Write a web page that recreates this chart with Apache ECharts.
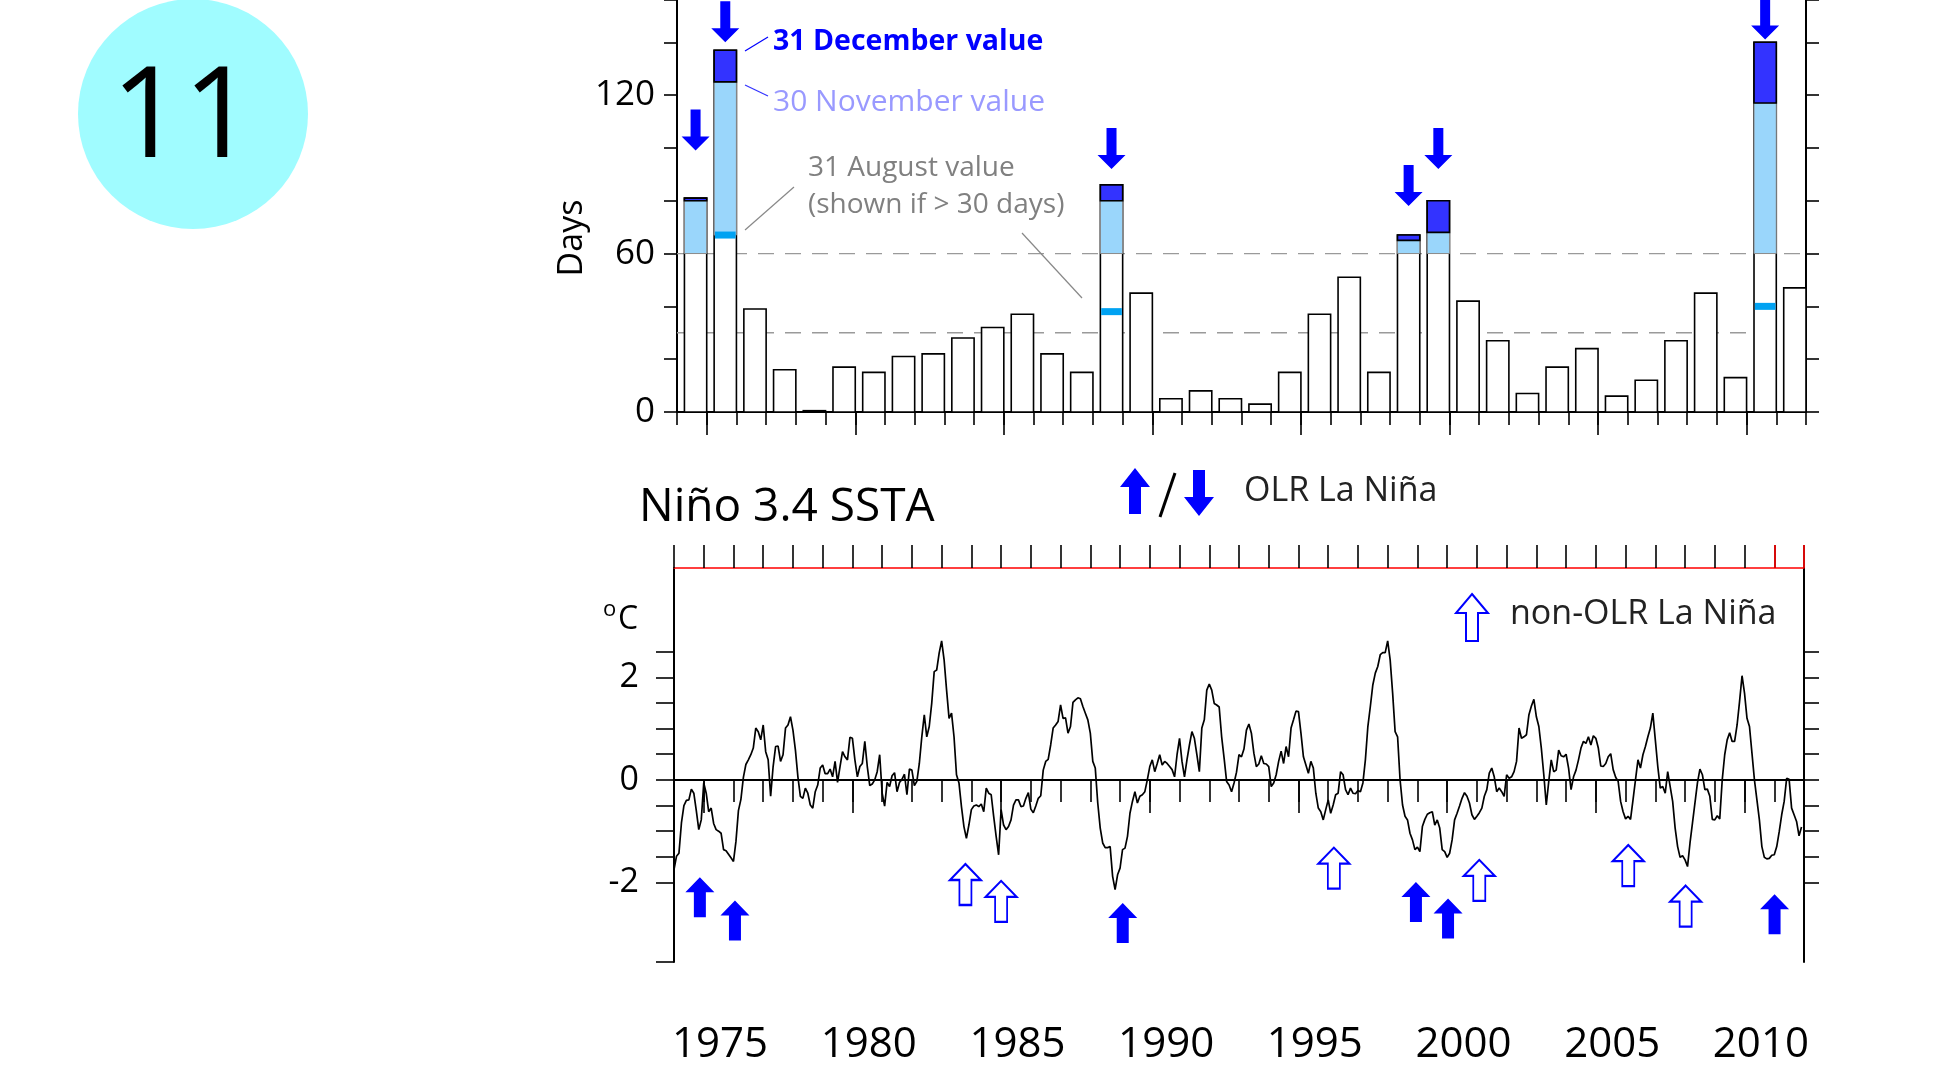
<!DOCTYPE html>
<html><head><meta charset="utf-8">
<script src="https://cdn.jsdelivr.net/npm/echarts@6/dist/echarts.min.js"></script>
<style>html,body{margin:0;padding:0;background:#fff}#c{width:1952px;height:1074px}</style>
</head><body><div id="c"></div>
<script>
// ---------- top panel: days per year ----------
const barYears = [1974,1975,1976,1977,1978,1979,1980,1981,1982,1983,1984,1985,1986,1987,1988,1989,1990,1991,1992,1993,
                  1994,1995,1996,1997,1998,1999,2000,2001,2002,2003,2004,2005,2006,2007,2008,2009,2010,2011];
const decDays = [81,137,39,16,0.5,17,15,21,22,28,32,37,22,15,86,45,5,8,5,3,
                 15,37,51,15,67,80,42,27,7,17,24,6,12,27,45,13,140,47];
const novDays = [80,125,null,null,null,null,null,null,null,null,null,null,null,null,80,null,null,null,null,null,
                 null,null,null,null,65,68,null,null,null,null,null,null,null,null,null,null,117,null];
const augDays = [null,67,null,null,null,null,null,null,null,null,null,null,null,null,38,null,null,null,null,null,
                 null,null,null,null,null,null,null,null,null,null,null,null,null,null,null,null,40,null];
const refDays = [60, 30];
const topArrowYears = [1974, 1975, 1988, 1998, 1999, 2010];
const topArrowTip = [99, 140, 92, 78, 92, 141];
const daysTicks = [0, 60, 120];

// ---------- bottom panel: Nino 3.4 SSTA, monthly from Jan 1974 ----------
const ssta1974_1979 = [
-1.75,-1.49,-1.43,-0.84,-0.50,-0.40,-0.39,-0.18,-0.26,-0.60,-0.97,-0.78,
-0.06,-0.26,-0.62,-0.55,-0.85,-0.97,-1.00,-1.04,-1.36,-1.38,-1.45,-1.52,
-1.59,-1.20,-0.60,-0.38,0.05,0.30,0.39,0.49,0.62,1.01,0.94,0.78,
1.07,0.55,0.39,-0.32,0.26,0.65,0.66,0.36,0.49,1.01,1.07,1.23,
0.97,0.58,0.06,-0.32,-0.36,-0.16,-0.26,-0.49,-0.55,-0.23,-0.10,0.23,
0.29,0.12,0.12,0.21,0.06,0.36,-0.05,0.26,0.55,0.45,0.39,0.83];
const ssta1980s = [
0.81,0.39,0.06,0.26,0.32,0.75,0.26,-0.11,-0.08,0.00,0.16,0.49,
-0.26,-0.51,-0.05,-0.13,0.08,0.14,-0.23,-0.05,0.01,0.11,-0.29,0.21,
0.19,-0.11,-0.03,0.32,0.84,1.27,0.84,1.04,1.49,2.11,2.14,2.47,
2.71,2.34,1.75,1.20,1.30,0.84,0.10,-0.06,-0.52,-0.91,-1.14,-0.88,
-0.58,-0.51,-0.49,-0.52,-0.47,-0.62,-0.16,-0.26,-0.29,-0.71,-1.10,-1.46,
-0.58,-0.88,-0.97,-0.91,-0.78,-0.49,-0.39,-0.39,-0.52,-0.51,-0.36,-0.25,
-0.57,-0.64,-0.51,-0.36,-0.31,0.19,0.36,0.40,0.68,1.01,1.07,1.14,
1.46,1.20,1.21,0.91,1.04,1.51,1.56,1.60,1.58,1.43,1.30,1.17,
0.91,0.36,0.23,-0.45,-0.94,-1.23,-1.32,-1.32,-1.30,-1.88,-2.14,-1.85,
-1.72,-1.36,-1.33,-1.10,-0.65,-0.42,-0.23,-0.45,-0.32,-0.29,-0.23,0.00];
const ssta1990s = [
0.26,0.39,0.16,0.32,0.49,0.29,0.36,0.32,0.26,0.20,0.06,0.49,
0.81,0.36,0.06,0.39,0.68,0.94,0.81,0.49,0.16,1.01,1.17,1.75,
1.87,1.75,1.49,1.46,1.42,0.84,0.42,-0.03,-0.10,-0.23,-0.06,0.15,
0.49,0.45,0.60,0.97,1.09,0.91,0.52,0.26,0.31,0.47,0.32,0.31,
0.26,-0.13,-0.06,0.10,0.36,0.56,0.32,0.65,0.45,1.01,1.17,1.34,
1.33,0.91,0.45,0.29,0.13,0.36,0.23,-0.26,-0.55,-0.62,-0.78,-0.58,
-0.39,-0.65,-0.49,-0.29,-0.26,0.16,0.10,-0.19,-0.29,-0.16,-0.26,-0.27,
-0.21,-0.23,-0.06,0.39,1.04,1.43,1.85,2.08,2.21,2.44,2.48,2.48,
2.71,2.34,1.69,0.94,0.84,0.00,-0.49,-0.71,-0.78,-1.04,-1.17,-1.36,
-1.31,-1.40,-0.91,-0.77,-0.67,-0.64,-0.62,-0.88,-0.78,-0.94,-1.36,-1.40];
const ssta2000s = [
-1.51,-1.43,-1.17,-0.78,-0.65,-0.51,-0.36,-0.25,-0.32,-0.45,-0.68,-0.77,
-0.71,-0.64,-0.55,-0.32,-0.19,0.13,0.23,0.06,-0.23,-0.16,-0.23,-0.32,
0.10,0.03,0.06,0.16,0.36,1.01,0.81,0.84,0.88,1.27,1.44,1.57,
1.23,1.04,0.62,0.10,-0.49,-0.03,0.39,0.16,0.19,0.58,0.47,0.45,
0.50,0.23,-0.19,0.06,0.19,0.39,0.62,0.75,0.71,0.84,0.68,0.86,
0.81,0.62,0.27,0.26,0.32,0.45,0.51,0.20,0.05,-0.03,-0.42,-0.62,
-0.76,-0.71,-0.77,-0.39,0.00,0.39,0.23,0.49,0.65,0.84,1.01,1.30,
0.78,0.26,-0.16,-0.13,-0.26,0.16,-0.13,-0.42,-0.94,-1.30,-1.51,-1.48,
-1.56,-1.69,-1.23,-0.84,-0.45,-0.06,0.21,0.10,-0.19,-0.18,-0.32,-0.77,
-0.78,-0.70,-0.76,0.00,0.49,0.78,0.92,0.75,0.75,1.07,1.53,2.03];
const ssta2010s = [
1.69,1.20,1.04,0.52,0.00,-0.39,-0.78,-1.30,-1.51,-1.54,-1.53,-1.47,
-1.46,-1.30,-1.01,-0.68,-0.42,0.03,0.01,-0.55,-0.68,-0.81,-1.09,-0.92];
const sstaStartYear = 1974;

const olrArrowX = [1974.87, 1976.05, 1989.09, 1998.95, 2000.03, 2011.01];
const olrArrowTip = [-1.90, -2.35, -2.40, -1.99, -2.31, -2.23];
const nonOlrArrowX = [1983.80, 1985.00, 1996.19, 2001.08, 2006.09, 2008.02];
const nonOlrArrowTip = [-1.64, -1.97, -1.32, -1.56, -1.27, -2.06];

const majorYears = [1975, 1980, 1985, 1990, 1995, 2000, 2005, 2010];
const sstaTicks = [-2, -1.5, -1, -0.5, 0, 0.5, 1, 1.5, 2, 2.5];
const sstaLabels = [-2, 0, 2];

// ---------- build ----------
const FONT = '"Open Sans", "Noto Sans", sans-serif';
const ssta = ssta1974_1979.concat(ssta1980s, ssta1990s, ssta2000s, ssta2010s);
const sstaData = ssta.map((v, i) => [sstaStartYear + i / 12, v]);
const barData = barYears.map((y, i) => [y, decDays[i], novDays[i] == null ? -1 : novDays[i], augDays[i] == null ? -1 : augDays[i]]);

const downPath = 'path://M9,0 L19,0 L19,27 L28,27 L14,41 L0,27 L9,27 Z';
const upPathFilled = 'path://M14.5,0 L29,15 L20.5,15 L20.5,40 L8.5,40 L8.5,15 L0,15 Z';
const upPathOpen = 'path://M15.5,0 L31,16 L21.5,16 L21.5,41 L9.5,41 L9.5,16 L0,16 Z';

function renderBars(params, api) {
  const yr = api.value(0), dec = api.value(1), nov = api.value(2), aug = api.value(3);
  const x0 = api.coord([yr + 0.25, 0])[0];
  const x1 = api.coord([yr + 1, 0])[0];
  const w = x1 - x0;
  const py = v => api.coord([yr, v])[1];
  const kids = [];
  kids.push({type: 'rect', shape: {x: x0, y: py(dec), width: w, height: py(0) - py(dec)},
             style: {fill: '#ffffff', stroke: '#000', lineWidth: 1.6}});
  if (nov > 0) {
    const ls = Math.max(60, aug > 0 ? aug : 0);
    kids.push({type: 'rect', shape: {x: x0, y: py(nov), width: w, height: py(ls) - py(nov)},
               style: {fill: '#9ad6fb', stroke: '#8a8a8a', lineWidth: 1}});
    kids.push({type: 'rect', shape: {x: x0, y: py(dec), width: w, height: py(nov) - py(dec)},
               style: {fill: '#3333ff', stroke: '#000', lineWidth: 1.6}});
  }
  if (aug > 0) {
    kids.push({type: 'rect', shape: {x: x0 + 0.8, y: py(aug) - 3.5, width: w - 1.6, height: 7},
               style: {fill: '#00a2f2'}});
  }
  return {type: 'group', children: kids};
}

const blk = {color: '#000', width: 2};
const tickStyle = {color: '#000', width: 1.6};

function txt(text, x, y, size, color, opts) {
  opts = opts || {};
  return {type: 'text', x: x, y: y, rotation: opts.rot || 0, z: 20,
    style: {text: text, fontSize: size, fontFamily: FONT, fontWeight: opts.weight || 'normal',
            fill: color, align: opts.align || 'left', textAlign: opts.align || 'left',
            verticalAlign: 'middle', textVerticalAlign: 'middle'}};
}
function seg(x1, y1, x2, y2, color, w) {
  return {type: 'line', z: 20, shape: {x1: x1, y1: y1, x2: x2, y2: y2}, style: {stroke: color, lineWidth: w}};
}
// arrow as polygon: (x,y) top-left, w,h size, shaft width sw, head length hl, dir 'up'|'down'
function arrowPoly(x, y, w, h, sw, hl, dir, fill, stroke) {
  const cx = x + w / 2, a = cx - sw / 2, b = cx + sw / 2;
  let pts;
  if (dir === 'up') {
    pts = [[cx, y], [x + w, y + hl], [b, y + hl], [b, y + h], [a, y + h], [a, y + hl], [x, y + hl]];
  } else {
    pts = [[a, y], [b, y], [b, y + h - hl], [x + w, y + h - hl], [cx, y + h], [x, y + h - hl], [a, y + h - hl]];
  }
  return {type: 'polygon', z: 20, shape: {points: pts},
          style: {fill: fill, stroke: stroke || null, lineWidth: stroke ? 2 : 0}};
}

const option = {
  animation: false,
  backgroundColor: '#ffffff',
  textStyle: {fontFamily: FONT},
  grid: [
    {left: 677, right: 146, top: 0, height: 412},
    {left: 674, right: 148, top: 568, height: 394}
  ],
  xAxis: [
    {gridIndex: 0, type: 'value', min: 1974, max: 2012, interval: 1, position: 'bottom',
     axisLine: {show: true, lineStyle: blk}, axisTick: {show: true, length: 13, lineStyle: tickStyle},
     axisLabel: {show: false}, splitLine: {show: false}},
    {gridIndex: 0, type: 'value', min: 1974, max: 2012, position: 'bottom',
     axisLine: {show: false}, axisTick: {show: true, length: 23, customValues: majorYears, lineStyle: tickStyle},
     axisLabel: {show: false}, splitLine: {show: false}},
    {gridIndex: 1, type: 'value', min: 1974, max: 2012, interval: 1, position: 'bottom',
     axisLine: {show: true, lineStyle: blk}, axisTick: {show: true, length: 22, lineStyle: tickStyle},
     axisLabel: {show: false}, splitLine: {show: false}},
    {gridIndex: 1, type: 'value', min: 1974, max: 2012, position: 'bottom',
     axisLine: {show: false}, axisTick: {show: true, length: 33, customValues: majorYears, lineStyle: tickStyle},
     axisLabel: {show: true, customValues: majorYears.map(y => y + 0.55), formatter: v => String(Math.floor(v)),
                 fontSize: 42, color: '#000', margin: 62, fontFamily: FONT},
     splitLine: {show: false}},
    {gridIndex: 1, type: 'value', min: 1974, max: 2012, interval: 1, position: 'top',
     axisLine: {show: true, lineStyle: {color: '#ff0000', width: 1.5}},
     axisTick: {show: true, length: 23, lineStyle: tickStyle},
     axisLabel: {show: false}, splitLine: {show: false}},
    {gridIndex: 1, type: 'value', min: 1974, max: 2012, position: 'top',
     axisLine: {show: false},
     axisTick: {show: true, length: 23, customValues: [2011, 2012], lineStyle: {color: '#ff0000', width: 1.6}},
     axisLabel: {show: false}, splitLine: {show: false}}
  ],
  yAxis: [
    {gridIndex: 0, type: 'value', min: 0, max: 156, interval: 20, position: 'left',
     axisLine: {show: true, lineStyle: blk}, axisTick: {show: true, length: 13, lineStyle: tickStyle},
     axisLabel: {show: true, customValues: daysTicks, fontSize: 35, color: '#000', margin: 22, fontFamily: FONT,
                 padding: [5, 0, 0, 0]},
     splitLine: {show: false}},
    {gridIndex: 0, type: 'value', min: 0, max: 156, interval: 20, position: 'right',
     axisLine: {show: true, lineStyle: blk}, axisTick: {show: true, length: 13, lineStyle: tickStyle},
     axisLabel: {show: false}, splitLine: {show: false}},
    {gridIndex: 1, type: 'value', min: -3.55, max: 4.13, position: 'left',
     axisLine: {show: true, lineStyle: blk},
     axisTick: {show: true, length: 18, customValues: [-3.55].concat(sstaTicks), lineStyle: tickStyle},
     axisLabel: {show: true, customValues: sstaLabels, fontSize: 34, color: '#000', margin: 35, fontFamily: FONT,
                 padding: [7, 0, 0, 0]},
     splitLine: {show: false}},
    {gridIndex: 1, type: 'value', min: -3.55, max: 4.13, position: 'right',
     axisLine: {show: true, lineStyle: blk},
     axisTick: {show: true, length: 15, customValues: sstaTicks, lineStyle: tickStyle},
     axisLabel: {show: false}, splitLine: {show: false}}
  ],
  series: [
    ...refDays.map(d => ({
      type: 'line', xAxisIndex: 0, yAxisIndex: 0, z: 1, silent: true, symbol: 'none',
      data: [[1974, d], [2012, d]],
      lineStyle: {color: '#9a9a9a', width: 1.3, type: [16, 11]}
    })),
    {type: 'custom', name: 'days', xAxisIndex: 0, yAxisIndex: 0, z: 3,
     renderItem: renderBars, data: barData, encode: {x: 0, y: 1}},
    {type: 'scatter', name: 'OLR La Niña (top)', xAxisIndex: 0, yAxisIndex: 0, z: 5,
     data: topArrowYears.map((y, i) => [y + 0.625, topArrowTip[i]]),
     symbol: downPath, symbolSize: [28, 41], symbolOffset: [0, -20.5],
     itemStyle: {color: '#0000ff', opacity: 1}},
    {type: 'line', xAxisIndex: 2, yAxisIndex: 2, z: 2, silent: true, symbol: 'none',
     data: [[1974, 0], [2012, 0]], lineStyle: {color: '#000', width: 1.6}},
    {type: 'line', name: 'Niño 3.4 SSTA', xAxisIndex: 2, yAxisIndex: 2, z: 3, symbol: 'none',
     data: sstaData, lineStyle: {color: '#000', width: 1.7}},
    {type: 'scatter', name: 'OLR La Niña', xAxisIndex: 2, yAxisIndex: 2, z: 5,
     data: olrArrowX.map((x, i) => [x, olrArrowTip[i]]),
     symbol: upPathFilled, symbolSize: [29, 40], symbolOffset: [0, 20],
     itemStyle: {color: '#0000ff', opacity: 1}},
    {type: 'scatter', name: 'non-OLR La Niña', xAxisIndex: 2, yAxisIndex: 2, z: 5,
     data: nonOlrArrowX.map((x, i) => [x, nonOlrArrowTip[i]]),
     symbol: upPathOpen, symbolSize: [31, 41], symbolOffset: [0, 20.5],
     itemStyle: {color: '#ffffff', borderColor: '#0000ff', borderWidth: 2, opacity: 1}}
  ],
  graphic: [
    {type: 'circle', z: 10, shape: {cx: 193, cy: 114, r: 115}, style: {fill: '#a0fcff'}},
    txt('11', 183, 121, 126, '#000', {align: 'center'}),
    txt('Days', 572, 238, 34, '#000', {align: 'center', rot: Math.PI / 2}),
    txt('31 December value', 773, 42, 28.5, '#0000ff', {weight: 'bold'}),
    txt('30 November value', 773, 102, 30, '#9999ff'),
    txt('31 August value', 808, 168, 28, '#808080'),
    txt('(shown if > 30 days)', 808, 205, 28, '#808080'),
    seg(745, 51, 768, 37, '#0000ff', 1.2),
    seg(745, 85, 768, 96, '#3333ff', 1.2),
    seg(794, 187, 745, 230, '#888888', 1.2),
    seg(1022, 233, 1082, 298, '#888888', 1.2),
    txt('Niño 3.4 SSTA', 639, 508, 46, '#000'),
    arrowPoly(1120, 468, 30, 46, 12, 19, 'up', '#0000ff'),
    seg(1160, 517, 1175, 473, '#000', 3),
    arrowPoly(1184, 470, 30, 46, 12, 19, 'down', '#0000ff'),
    txt('OLR La Niña', 1244, 491, 34, '#222'),
    arrowPoly(1456, 594, 32, 47, 12, 19, 'up', '#ffffff', '#0000ff'),
    txt('non-OLR La Niña', 1510, 614, 34, '#222'),
    txt('o', 603, 610, 22, '#000'),
    txt('C', 618, 620, 32, '#000')
  ]
};

const chart = echarts.init(document.getElementById('c'), null, {renderer: 'canvas', width: 1952, height: 1074});
chart.setOption(option);
</script>
</body></html>
